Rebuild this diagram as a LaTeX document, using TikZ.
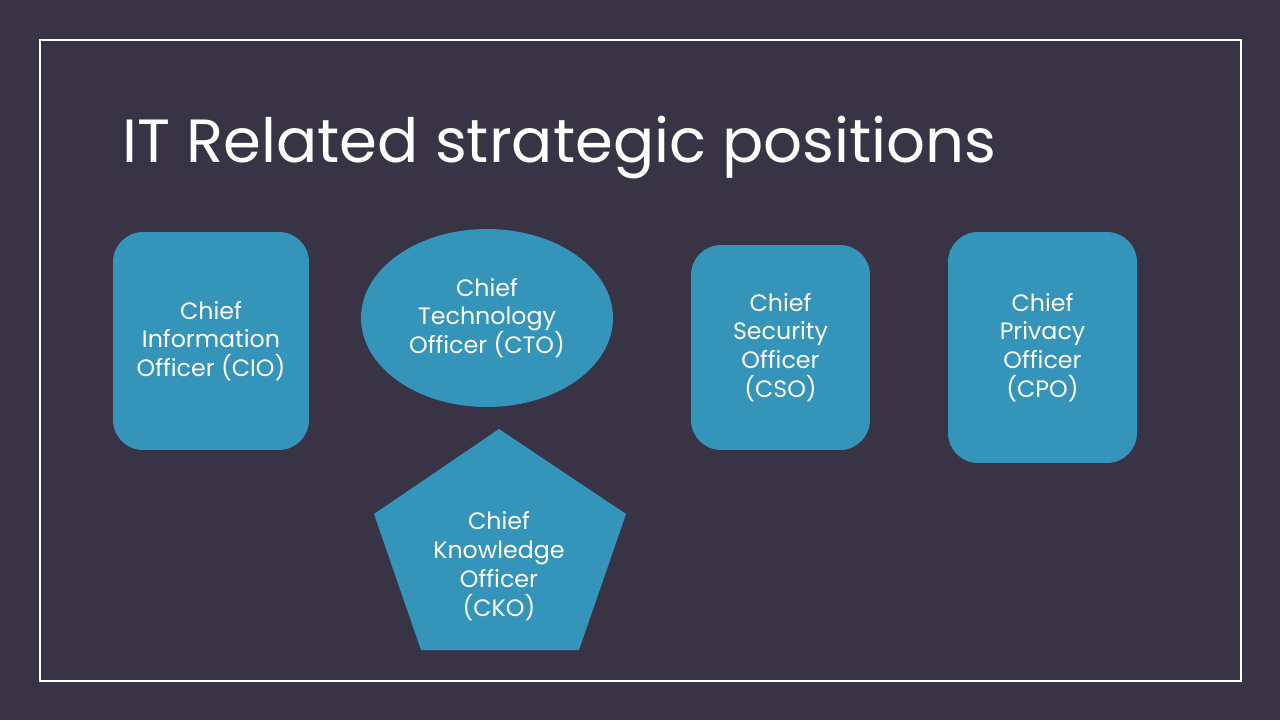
\documentclass[tikz,border=0pt]{standalone}
\usepackage{fontspec}
\setmainfont{Poppins}
\usetikzlibrary{shapes.geometric,positioning,calc}
\definecolor{slidebg}{HTML}{383446}
\definecolor{roleblue}{HTML}{3494BA}
\tikzset{
  rolebox/.style={fill=roleblue, draw=none, rounded corners=0.6cm,
                  align=center, text=white, font=\fontsize{13.5}{16.4}\selectfont,
                  inner sep=0pt},
  roleoval/.style={ellipse, fill=roleblue, draw=none, align=center, text=white,
                   font=\fontsize{13.5}{16.4}\selectfont, inner sep=0pt},
  roletext/.style={align=center, text=white, font=\fontsize{13.5}{16.4}\selectfont,
                   inner sep=0pt}}

\begin{document}
\begin{tikzpicture}[x=0.02cm, y=-0.02cm]
    % slide background
    \fill[slidebg] (0,0) rectangle (1280,720);
    \useasboundingbox (0,0) rectangle (1280,720);
    \draw[white, line width=0.6pt] (40,40) rectangle (1241,681);
    % title
    \node[anchor=base west, inner sep=0pt, text=white,
          font=\fontsize{34.7}{40}\selectfont] (title) at (122,162)
      {IT Related strategic positions};
    % the positions
    \node[rolebox, minimum width=3.92cm, minimum height=4.36cm] (cio) at (211,341)
      {Chief\\Information\\Officer (CIO)};
    \node[roleoval, minimum width=5.04cm, minimum height=3.56cm] (cto) at (487,318)
      {Chief\\Technology\\Officer (CTO)};
    \node[rolebox, minimum width=3.58cm, minimum height=4.10cm] (cso) at (780.5,347.5)
      {Chief\\Security\\Officer\\(CSO)};
    \node[rolebox, minimum width=3.78cm, minimum height=4.62cm] (cpo) at (1042.5,347.5)
      {Chief\\Privacy\\Officer\\(CPO)};
    % pentagon for the knowledge officer
    \fill[roleblue] (499,429) -- (626,514) -- (579,650) -- (421,650) -- (374,514) -- cycle;
    \node[roletext] (cko) at (499,566)
      {Chief\\Knowledge\\Officer\\(CKO)};
  \end{tikzpicture}
\end{document}
